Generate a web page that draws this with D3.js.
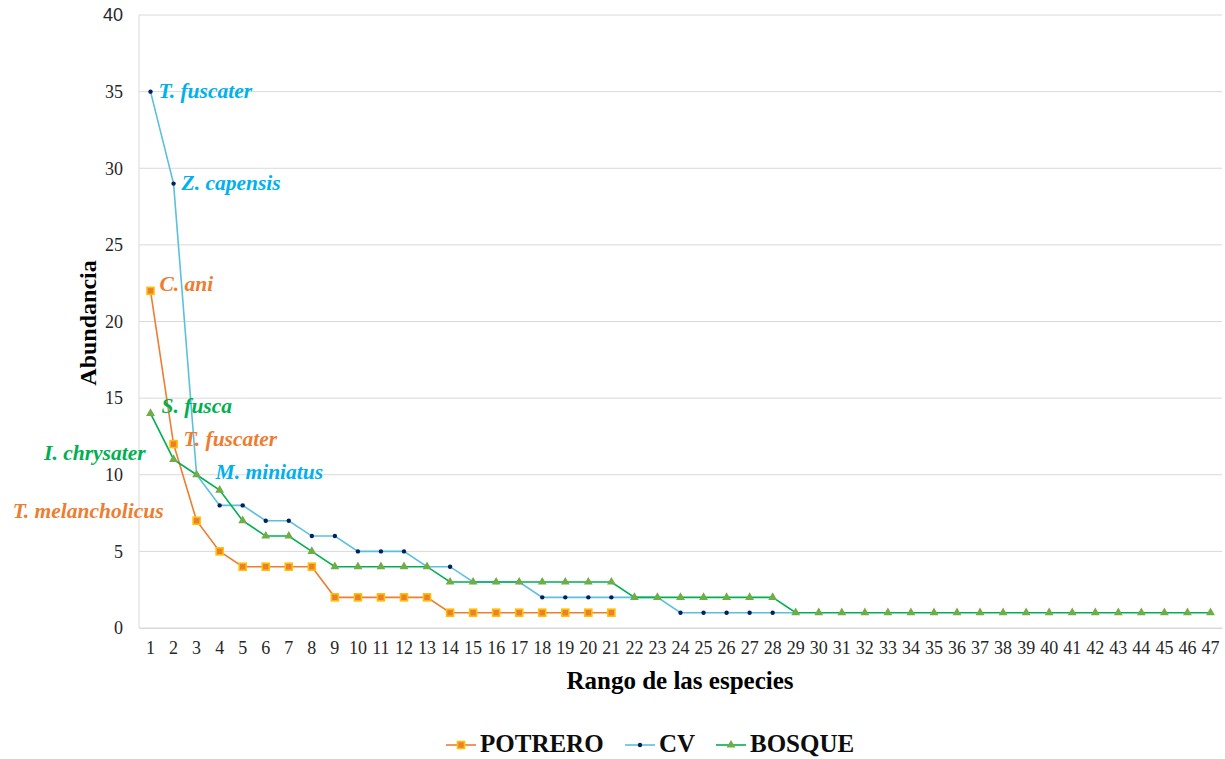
<!DOCTYPE html>
<html>
<head>
<meta charset="utf-8">
<script src="https://cdn.jsdelivr.net/npm/d3@7"></script>
<style>
  html, body { margin: 0; padding: 0; background: #fff; }
  svg { display: block; }
</style>
</head>
<body>
<svg id="chart" width="1225" height="759"></svg>
<script>
// Species rank-abundance data per habitat
const ranks = d3.range(1, 48);
const potrero = [22, 12, 7, 5, 4, 4, 4, 4, 2, 2, 2, 2, 2, 1, 1, 1, 1, 1, 1, 1, 1];
const cv = [35, 29, 10, 8, 8, 7, 7, 6, 6, 5, 5, 5, 4, 4, 3, 3, 3, 2, 2, 2, 2, 2, 2, 1, 1, 1, 1, 1, 1];
const bosque = [14, 11, 10, 9, 7, 6, 6, 5, 4, 4, 4, 4, 4, 3, 3, 3, 3, 3, 3, 3, 3, 2, 2, 2, 2, 2, 2, 2,
  1, 1, 1, 1, 1, 1, 1, 1, 1, 1, 1, 1, 1, 1, 1, 1, 1, 1, 1];
const yTicks = [0, 5, 10, 15, 20, 25, 30, 35, 40];

// Species labels: series, rank, text and offset from the point
const speciesLabels = [
  { series: "CV", rank: 1, text: "T. fuscater", dx: 8, dy: 1, anchor: "start" },
  { series: "CV", rank: 2, text: "Z. capensis", dx: 8, dy: 1, anchor: "start" },
  { series: "POTRERO", rank: 1, text: "C. ani", dx: 9, dy: -5, anchor: "start" },
  { series: "BOSQUE", rank: 1, text: "S. fusca", dx: 11, dy: -5, anchor: "start" },
  { series: "POTRERO", rank: 2, text: "T. fuscater", dx: 10, dy: -3, anchor: "start" },
  { series: "BOSQUE", rank: 2, text: "I. chrysater", dx: -28, dy: -4, anchor: "end" },
  { series: "CV", rank: 3, text: "M. miniatus", dx: 19, dy: -1, anchor: "start" },
  { series: "POTRERO", rank: 3, text: "T. melancholicus", dx: -33, dy: -8, anchor: "end" }
];

const series = [
  { name: "POTRERO", values: potrero, line: "#ed7d31", marker: "square", fill: "#ed7d31", stroke: "#ffc000", textColor: "#ed7d31" },
  { name: "CV", values: cv, line: "#5bc0de", marker: "circle", fill: "#002060", stroke: "#002060", textColor: "#00b0f0" },
  { name: "BOSQUE", values: bosque, line: "#00b050", marker: "triangle", fill: "#70ad47", stroke: "#70ad47", textColor: "#00b050" }
];

const svg = d3.select("#chart");
const margin = { left: 139, right: 3, top: 15, bottom: 131 };
const W = 1225, H = 759;
const plotW = W - margin.left - margin.right;
const plotH = H - margin.top - margin.bottom;

const x = d3.scaleBand().domain(ranks).range([margin.left, margin.left + plotW]);
const y = d3.scaleLinear().domain([0, 40]).range([margin.top + plotH, margin.top]);
const cx = r => x(r) + x.bandwidth() / 2;

const serif = "'Liberation Serif', 'Times New Roman', serif";

// Grid lines
svg.append("g")
  .selectAll("line")
  .data(yTicks)
  .join("line")
  .attr("x1", margin.left).attr("x2", margin.left + plotW)
  .attr("y1", d => y(d)).attr("y2", d => y(d))
  .attr("stroke", "#d9d9d9").attr("stroke-width", 1);

// Left edge of plot area
svg.append("line")
  .attr("x1", margin.left).attr("x2", margin.left)
  .attr("y1", y(40)).attr("y2", y(0))
  .attr("stroke", "#d9d9d9");

// Y axis
const yAxis = svg.append("g")
  .attr("transform", `translate(${margin.left},0)`)
  .call(d3.axisLeft(y).tickValues(yTicks).tickSize(0).tickPadding(16));
yAxis.select(".domain").remove();
yAxis.selectAll("text")
  .attr("font-family", d => d === 40 ? "'Liberation Sans', Arial, sans-serif" : serif)
  .attr("font-size", 18).attr("fill", "#262626");

// X axis
const xAxis = svg.append("g")
  .attr("transform", `translate(0,${y(0)})`)
  .call(d3.axisBottom(x).tickSize(0).tickPadding(13));
xAxis.select(".domain").attr("stroke", "#d9d9d9");
xAxis.selectAll("text")
  .attr("font-family", serif).attr("font-size", 18).attr("fill", "#262626");

// Axis titles
svg.append("text")
  .attr("x", 680).attr("y", 689)
  .attr("text-anchor", "middle")
  .attr("font-family", serif).attr("font-weight", "bold").attr("font-size", 25)
  .text("Rango de las especies");

svg.append("text")
  .attr("transform", `translate(96,323) rotate(-90)`)
  .attr("text-anchor", "middle")
  .attr("font-family", serif).attr("font-weight", "bold").attr("font-size", 24)
  .text("Abundancia");

// Lines and markers
const line = d3.line().x((d, i) => cx(i + 1)).y(d => y(d));
const tri = d3.symbol().type(d3.symbolTriangle).size(34);

function drawMarker(g, s, px, py) {
  if (s.marker === "square") {
    g.append("rect")
      .attr("x", px - 3.5).attr("y", py - 3.5).attr("width", 7).attr("height", 7)
      .attr("fill", s.fill).attr("stroke", s.stroke).attr("stroke-width", 1.6);
  } else if (s.marker === "circle") {
    g.append("circle").attr("cx", px).attr("cy", py).attr("r", 2.2).attr("fill", s.fill);
  } else {
    g.append("path").attr("d", tri).attr("transform", `translate(${px},${py})`).attr("fill", s.fill);
  }
}

series.forEach(s => {
  const g = svg.append("g");
  g.append("path")
    .datum(s.values)
    .attr("d", line)
    .attr("fill", "none")
    .attr("stroke", s.line)
    .attr("stroke-width", 1.6);
  s.values.forEach((v, i) => drawMarker(g, s, cx(i + 1), y(v)));
});

// Species labels
const byName = Object.fromEntries(series.map(s => [s.name, s]));
svg.append("g")
  .selectAll("text")
  .data(speciesLabels)
  .join("text")
  .attr("x", d => cx(d.rank) + d.dx)
  .attr("y", d => y(byName[d.series].values[d.rank - 1]) + d.dy)
  .attr("dominant-baseline", "middle")
  .attr("text-anchor", d => d.anchor)
  .attr("font-family", serif).attr("font-weight", "bold").attr("font-style", "italic")
  .attr("font-size", 21.5)
  .attr("fill", d => byName[d.series].textColor)
  .text(d => d.text);

// Legend
const legendItems = [
  { s: series[0], x: 446 },
  { s: series[1], x: 625 },
  { s: series[2], x: 716 }
];
const lg = svg.append("g");
legendItems.forEach(({ s, x: lx }) => {
  const ly = 745;
  lg.append("line").attr("x1", lx).attr("x2", lx + 30).attr("y1", ly).attr("y2", ly)
    .attr("stroke", s.line).attr("stroke-width", 1.6);
  drawMarker(lg, s, lx + 15, ly);
  lg.append("text")
    .attr("x", lx + 34).attr("y", ly + 1)
    .attr("dominant-baseline", "middle")
    .attr("font-family", serif).attr("font-weight", "bold").attr("font-size", 25)
    .attr("fill", "#0d0d0d")
    .text(s.name);
});
</script>
</body>
</html>
